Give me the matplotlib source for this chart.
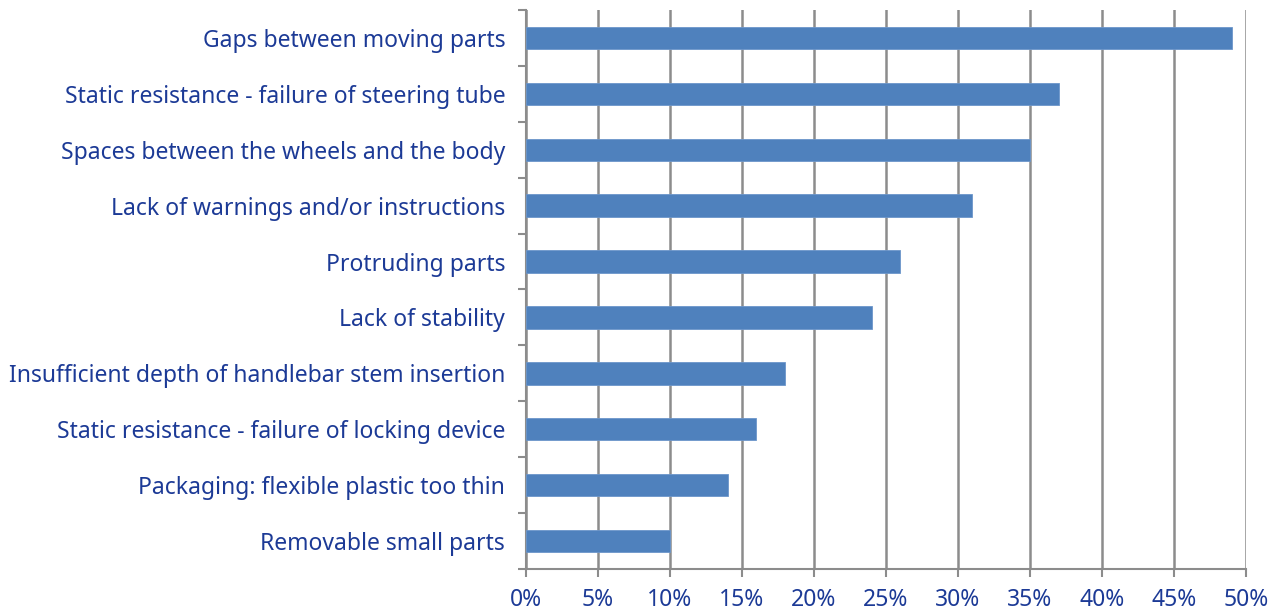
import matplotlib
matplotlib.use("Agg")
import matplotlib.pyplot as plt
import numpy as np
from matplotlib.ticker import FuncFormatter, FixedLocator

# data, bottom to top
categories = [
    "Removable small parts",
    "Packaging: flexible plastic too thin",
    "Static resistance - failure of locking device",
    "Insufficient depth of handlebar stem insertion",
    "Lack of stability",
    "Protruding parts",
    "Lack of warnings and/or instructions",
    "Spaces between the wheels and the body",
    "Static resistance - failure of steering tube",
    "Gaps between moving parts",
]
shares = [10, 14, 16, 18, 24, 26, 31, 35, 37, 49]
xticks = [0, 5, 10, 15, 20, 25, 30, 35, 40, 45, 50]

text_col = "#1C3A96"
grid_col = "#8C8C8C"

plt.rcParams['font.family'] = ['Noto Sans', 'DejaVu Sans']

fig = plt.figure(figsize=(12.78, 6.10), dpi=100)
ax = fig.add_axes([526 / 1278, 1 - 569 / 610, 720 / 1278, 559 / 610])

y = np.arange(len(categories))
ax.barh(y, shares, height=0.4, color="#4F81BD", edgecolor="#6C96CA", linewidth=0.6, zorder=3)

ax.set_xlim(0, 50)
ax.set_ylim(-0.5, len(categories) - 0.5)
ax.set_xticks(xticks)
ax.xaxis.set_major_formatter(FuncFormatter(lambda v, p: "%d%%" % v))
ax.set_yticks(y)
ax.set_yticklabels(categories)
ax.yaxis.set_minor_locator(FixedLocator(np.arange(-0.5, len(categories), 1.0)))

ax.grid(axis="x", color=grid_col, linewidth=1.8, zorder=0)
ax.tick_params(axis="x", colors=grid_col, labelcolor=text_col, labelsize=16.5,
               length=6, width=1.5, pad=8)
ax.tick_params(axis="y", which="major", length=0, labelcolor=text_col, labelsize=16.5, pad=15)
ax.tick_params(axis="y", which="minor", length=6, width=1.5, color=grid_col)

for s in ["top", "right"]:
    ax.spines[s].set_visible(False)
for s in ["left", "bottom"]:
    ax.spines[s].set_color(grid_col)
    ax.spines[s].set_linewidth(1.5)

fig.savefig("out.png", dpi=100)
